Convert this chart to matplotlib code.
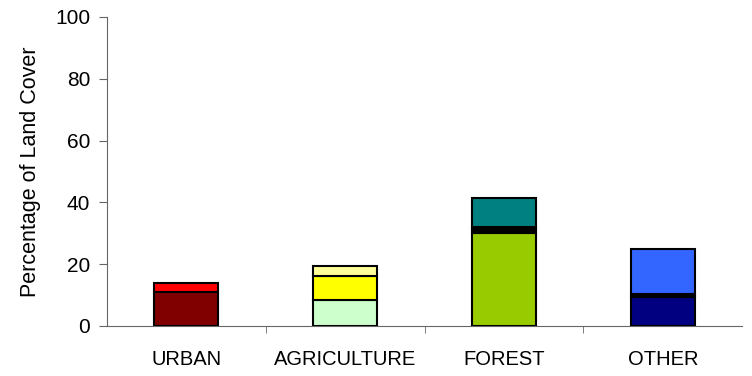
import numpy as np
import matplotlib.pyplot as plt

plt.rcParams['font.family'] = ['Liberation Sans', 'DejaVu Sans']

# categories and stacked segments (bottom to top)
categories = ['URBAN', 'AGRICULTURE', 'FOREST', 'OTHER']
segments = [
    [11.0, 2.9],
    [8.4, 7.9, 3.2],
    [30.2, 1.1, 0.8, 9.2],
    [9.5, 0.8, 14.5],
]
colors = [
    ['#800000', '#FF0000'],
    ['#CCFFCC', '#FFFF00', '#FFFF99'],
    ['#99CC00', '#000000', '#339966', '#008080'],
    ['#000080', '#000000', '#3366FF'],
]

fig = plt.figure(figsize=(7.52, 3.76), dpi=100)
ax = fig.add_axes([0.142, 0.133, 0.845, 0.822])

x = np.arange(len(categories))
for i, segs in enumerate(segments):
    bottom = 0
    for val, col in zip(segs, colors[i]):
        ax.bar(x[i], val, bottom=bottom, width=0.4, color=col,
               edgecolor='black', linewidth=1.5, zorder=3)
        bottom += val

ax.set_xlim(-0.5, len(categories) - 0.5)
ax.set_ylim(0, 100)
ax.set_yticks(np.arange(0, 101, 20))
ax.set_xticks(x)
ax.set_xticklabels(categories)
ax.set_xticks(np.arange(0.5, len(categories) - 0.5, 1), minor=True)
ax.tick_params(axis='x', which='major', length=0, pad=17, labelsize=14.5)
ax.tick_params(axis='x', which='minor', length=5, color='#666666')
ax.tick_params(axis='y', length=6, pad=6, color='#666666', labelsize=15)
ax.set_ylabel('Percentage of Land Cover', fontsize=15.5, labelpad=10)

for s in ['top', 'right']:
    ax.spines[s].set_visible(False)
for s in ['left', 'bottom']:
    ax.spines[s].set_color('#666666')

fig.savefig('out.png', dpi=100)
